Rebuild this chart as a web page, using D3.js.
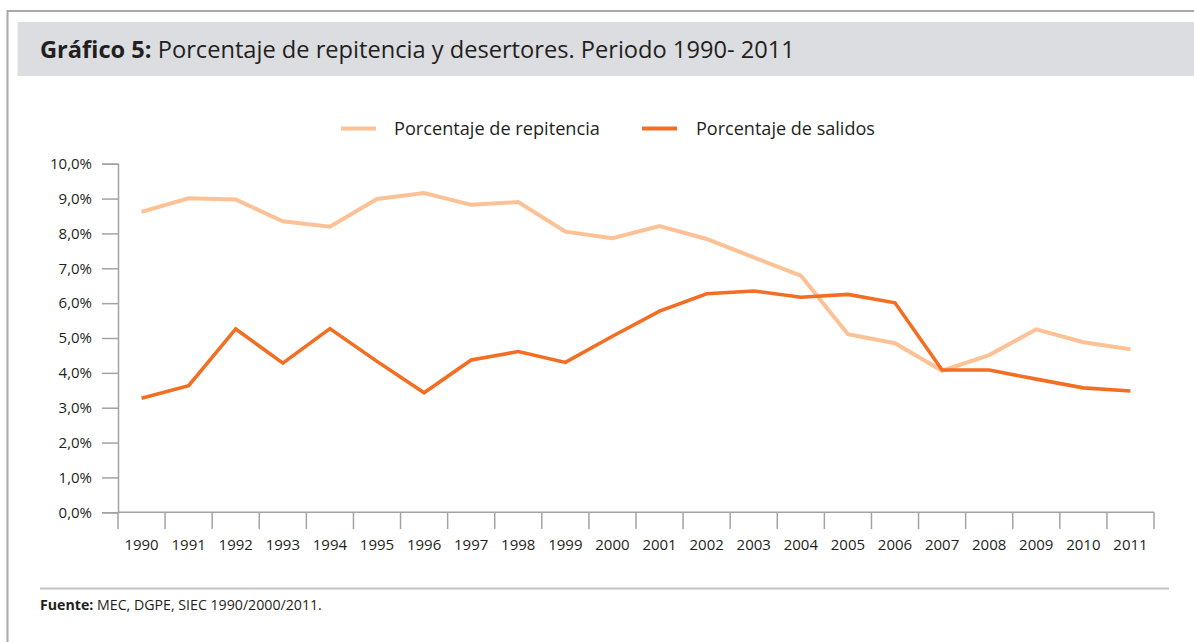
<!DOCTYPE html>
<html><head><meta charset="utf-8">
<script src="https://cdn.jsdelivr.net/npm/d3@7"></script>
<style>html,body{margin:0;padding:0;background:#fff;overflow:hidden}</style>
</head><body>
<svg id="c" width="1194" height="642"></svg>
<script>
const years = [1990,1991,1992,1993,1994,1995,1996,1997,1998,1999,2000,2001,2002,2003,2004,2005,2006,2007,2008,2009,2010,2011];
const repitencia = [8.62,9.01,8.97,8.35,8.19,8.99,9.16,8.82,8.90,8.05,7.86,8.21,7.84,7.31,6.79,5.11,4.85,4.06,4.51,5.25,4.88,4.68];
const salidos = [3.27,3.63,5.26,4.28,5.27,4.33,3.43,4.37,4.61,4.30,5.05,5.77,6.27,6.35,6.17,6.25,6.01,4.08,4.08,3.82,3.57,3.48];
const yTicks = [0,1,2,3,4,5,6,7,8,9,10];
const seriesNames = ["Porcentaje de repitencia","Porcentaje de salidos"];
const colors = ["#fdc196","#f36e22"];
const titleBold = "Gráfico 5:";
const titleRest = " Porcentaje de repitencia y desertores. Periodo 1990- 2011";
const sourceBold = "Fuente:";
const sourceRest = " MEC, DGPE, SIEC 1990/2000/2011.";

const FONT = "'Open Sans', 'Noto Sans', sans-serif";
const svg = d3.select("#c");
const loc = d3.formatLocale({decimal:",", thousands:".", grouping:[3], currency:["","€"], percent:"%"});
const fmt = v => loc.format(".1f")(v) + "%";

function fit(sel, target){
  const n = sel.node(); let fs = parseFloat(sel.attr("font-size"));
  const w = n.getComputedTextLength();
  sel.attr("font-size", (fs*target/w).toFixed(2));
}

// frame
svg.append("path").attr("d","M7.5,642 L7.5,11 L1194,11").attr("fill","none").attr("stroke","#a9a9a9").attr("stroke-width",2);
// title band
svg.append("rect").attr("x",17.5).attr("y",22).attr("width",1194-17.5).attr("height",54).attr("fill","#dcdde0");
const t = svg.append("text").attr("x",40).attr("y",58).attr("font-family",FONT).attr("font-size",21).attr("fill","#231f20");
t.append("tspan").attr("font-weight","bold").text(titleBold);
t.append("tspan").text(titleRest);
fit(t, 755);

// scales
const x = d3.scaleBand().domain(years).range([118,1154]).padding(0);
const y = d3.scaleLinear().domain([0,10]).range([512.3,163.7]);

// y axis
const ya = svg.append("g").attr("transform","translate(118,0)")
  .call(d3.axisLeft(y).tickValues(yTicks).tickFormat(fmt).tickSize(16).tickPadding(10));
ya.select(".domain").attr("stroke","#a3a3a6").attr("stroke-width",1.5);
ya.selectAll(".tick line").attr("stroke","#a3a3a6").attr("stroke-width",1.5);
ya.selectAll("text").attr("font-family",FONT).attr("font-size",15).attr("fill","#231f20");

// x axis
const xa = svg.append("g").attr("transform","translate(0,512.3)")
  .call(d3.axisBottom(x).tickSize(0).tickPadding(27));
xa.select(".domain").remove();
xa.selectAll("text").attr("font-family",FONT).attr("font-size",15).attr("fill","#231f20");
svg.append("line").attr("x1",118).attr("x2",1154).attr("y1",512.3).attr("y2",512.3).attr("stroke","#a3a3a6").attr("stroke-width",1.5);
const bounds = years.map(d=>x(d)).concat([x(years[years.length-1])+x.bandwidth()]);
svg.append("g").selectAll("line").data(bounds).join("line")
  .attr("x1",d=>d).attr("x2",d=>d).attr("y1",512.3).attr("y2",529)
  .attr("stroke","#a3a3a6").attr("stroke-width",1.5);

// lines
const line = d3.line().x((d,i)=>x(years[i])+x.bandwidth()/2).y(d=>y(d));
[repitencia, salidos].forEach((s,k)=>{
  svg.append("path").attr("d",line(s)).attr("fill","none").attr("stroke",colors[k])
    .attr("stroke-width",k===0?4:3.6).attr("stroke-linejoin","miter");
});

// legend
const legX = [341,642], legTX = [394,696], legW=[206,179];
seriesNames.forEach((n,k)=>{
  svg.append("line").attr("x1",legX[k]).attr("x2",legX[k]+35).attr("y1",128.5).attr("y2",128.5)
    .attr("stroke",colors[k]).attr("stroke-width",4);
  const lt = svg.append("text").attr("x",legTX[k]).attr("y",134.5).attr("font-family",FONT).attr("font-size",17).attr("fill","#231f20").text(n);
  fit(lt, legW[k]);
});

// footer
svg.append("line").attr("x1",40).attr("x2",1169).attr("y1",588.5).attr("y2",588.5).attr("stroke","#c4c4c4").attr("stroke-width",2);
const f = svg.append("text").attr("x",40).attr("y",610).attr("font-family",FONT).attr("font-size",12.5).attr("fill","#231f20");
f.append("tspan").attr("font-weight","bold").text(sourceBold);
f.append("tspan").text(sourceRest);
fit(f, 282);
</script>
</body></html>
